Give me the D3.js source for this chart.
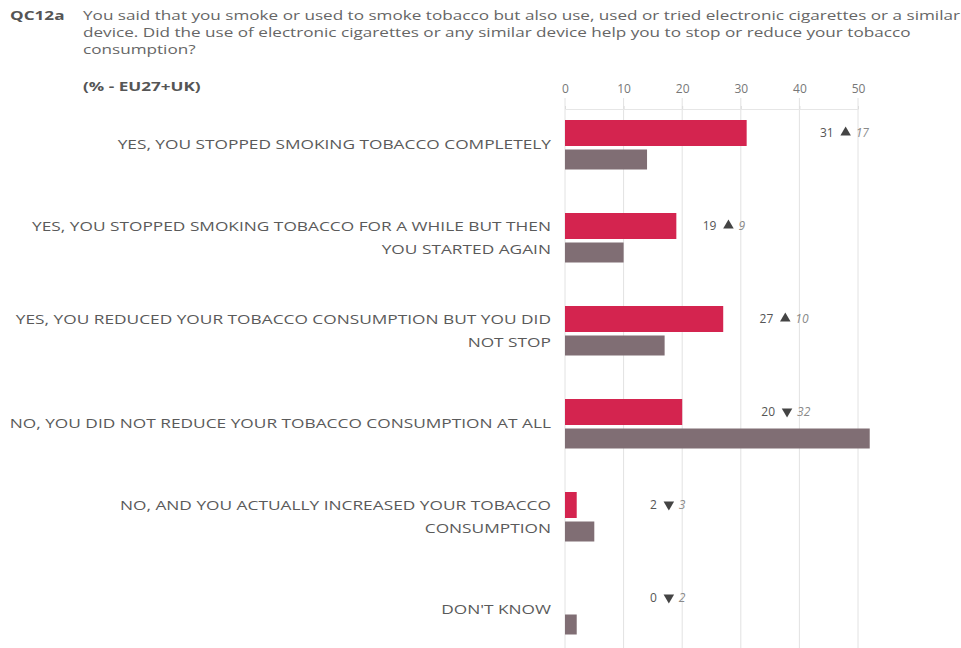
<!DOCTYPE html>
<html>
<head>
<meta charset="utf-8">
<script src="https://cdn.jsdelivr.net/npm/d3@7/dist/d3.min.js"></script>
<style>
  html, body { margin: 0; padding: 0; background: #fff; }
  svg { display: block; font-family: "Open Sans", "Noto Sans", sans-serif; }
</style>
</head>
<body>
<svg id="chart" width="961" height="648"></svg>
<script>
// Survey answers (each label split into its printed lines)
const categories = [
  ["YES, YOU STOPPED SMOKING TOBACCO COMPLETELY"],
  ["YES, YOU STOPPED SMOKING TOBACCO FOR A WHILE BUT THEN", "YOU STARTED AGAIN"],
  ["YES, YOU REDUCED YOUR TOBACCO CONSUMPTION BUT YOU DID", "NOT STOP"],
  ["NO, YOU DID NOT REDUCE YOUR TOBACCO CONSUMPTION AT ALL"],
  ["NO, AND YOU ACTUALLY INCREASED YOUR TOBACCO", "CONSUMPTION"],
  ["DON'T KNOW"]
];
// Current wave (%) and previous wave (%)
const currentWave  = [31, 19, 27, 20, 2, 0];
const previousWave = [14, 10, 17, 52, 5, 2];
const xTicks = [0, 10, 20, 30, 40, 50];

const titleCode = "QC12a";
const titleLines = [
  "You said that you smoke or used to smoke tobacco but also use, used or tried electronic cigarettes or a similar",
  "device. Did the use of electronic cigarettes or any similar device help you to stop or reduce your tobacco",
  "consumption?"
];
const baseLabel = "(% - EU27+UK)";

// Where each change note sits, in axis units
const noteAt = [43.5, 23.5, 33.2, 33.5, 14.5, 14.5];

const svg = d3.select("#chart");
const RED = "#d4244f", GREY = "#806e74";

// Stretch a text horizontally by factor k, keeping its font size
function widen(sel, k) {
  sel.each(function () {
    const w = this.getComputedTextLength();
    d3.select(this).attr("textLength", w * k).attr("lengthAdjust", "spacingAndGlyphs");
  });
}

// Header
const header = svg.append("g");
header.append("text").attr("x", 10).attr("y", 20)
  .attr("font-size", 12.5).attr("font-weight", 700).attr("fill", "#555")
  .text(titleCode);
titleLines.forEach((t, i) => {
  header.append("text").attr("x", 83).attr("y", 20 + i * 17)
    .attr("font-size", 12.5).attr("fill", "#666").text(t);
});
header.append("text").attr("x", 83).attr("y", 91)
  .attr("font-size", 12.5).attr("font-weight", 700).attr("fill", "#555")
  .text(baseLabel);
widen(header.selectAll("text"), 1.37);

// Scales
const x = d3.scaleLinear().domain([0, 50]).range([565, 858]);
const idx = d3.range(categories.length);
const y = d3.scaleBand().domain(idx).range([120, 120 + 93 * categories.length]).padding(0);

// Vertical gridlines
svg.append("g").selectAll("line").data(xTicks).join("line")
  .attr("x1", d => x(d)).attr("x2", d => x(d))
  .attr("y1", 98).attr("y2", 648)
  .attr("stroke", "#e2e2e2").attr("stroke-width", 1);

// Top axis
const axis = svg.append("g").attr("transform", "translate(0,109)")
  .call(d3.axisTop(x).tickValues(xTicks).tickSize(3).tickPadding(13).tickFormat(d3.format("d")));
axis.select(".domain").attr("stroke", "#e6e6e6");
axis.selectAll(".tick line").attr("stroke", "#dcdcdc");
axis.selectAll(".tick text").attr("font-size", 12).attr("fill", "#777")
  .attr("font-family", "\"Open Sans\", sans-serif");

// Bars
const bars = svg.append("g");
bars.selectAll("rect.cur").data(idx).join("rect").attr("class", "cur")
  .attr("x", x(0)).attr("y", i => y(i))
  .attr("width", i => x(currentWave[i]) - x(0)).attr("height", 26)
  .attr("fill", RED);
bars.selectAll("rect.prev").data(idx).join("rect").attr("class", "prev")
  .attr("x", x(0)).attr("y", i => y(i) + 29.5)
  .attr("width", i => x(previousWave[i]) - x(0)).attr("height", 20)
  .attr("fill", GREY);

// Category labels, centred on each pair of bars
const labels = svg.append("g");
idx.forEach(i => {
  const lines = categories[i];
  const mid = y(i) + 24.75;
  const lh = 23;
  lines.forEach((t, k) => {
    labels.append("text")
      .attr("x", 551).attr("y", mid + (k - (lines.length - 1) / 2) * lh + 4.5)
      .attr("text-anchor", "end").attr("font-size", 13).attr("fill", "#5a5a5a")
      .text(t);
  });
});
widen(labels.selectAll("text"), 1.33);

// Change notes: value, direction marker, difference to previous wave
const notes = svg.append("g");
idx.forEach(i => {
  const diff = currentWave[i] - previousWave[i];
  const gx = x(noteAt[i]);
  const gy = y(i) + 17;
  const v = notes.append("text").attr("x", gx).attr("y", gy)
    .attr("font-size", 12).attr("fill", "#555").text(currentWave[i]);
  const w = v.node().getComputedTextLength();
  const up = diff > 0;
  notes.append("path")
    .attr("d", d3.symbol(d3.symbolTriangle, 48)())
    .attr("transform", `translate(${gx + w + 12},${gy - 4.5}) rotate(${up ? 0 : 180})`)
    .attr("fill", "#444");
  notes.append("text").attr("x", gx + w + 22).attr("y", gy)
    .attr("font-size", 12).attr("font-style", "italic").attr("fill", "#8a8a8a")
    .text(Math.abs(diff));
});
</script>
</body>
</html>
